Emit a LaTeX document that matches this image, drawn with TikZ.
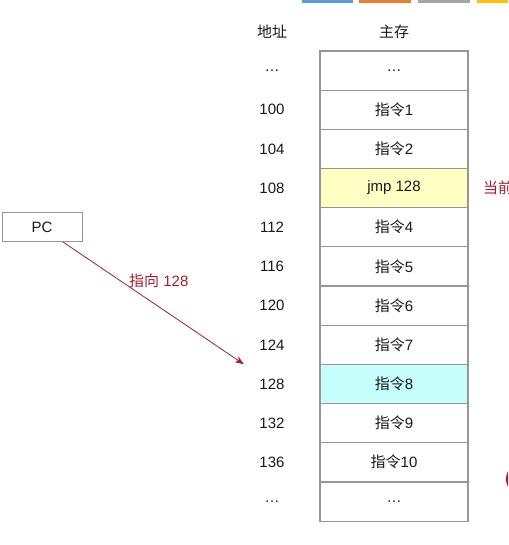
\documentclass[tikz,border=0pt]{standalone}
\usepackage{fontspec}
\setmainfont{Liberation Sans}
\newfontfamily\cjk{Noto Sans CJK SC}
\usepackage{xcolor}
\usetikzlibrary{arrows.meta}
\definecolor{cellgray}{RGB}{150,150,150}
\definecolor{jmpyellow}{RGB}{255,255,196}
\definecolor{hitcyan}{RGB}{198,253,253}
\definecolor{pcred}{RGB}{168,28,44}
\definecolor{barblue}{RGB}{91,155,213}
\definecolor{barorange}{RGB}{237,125,49}
\definecolor{bargray}{RGB}{165,165,165}
\definecolor{baryellow}{RGB}{255,192,0}

\begin{document}
\begin{tikzpicture}[x=1pt,y=-1pt,font=\fontsize{15}{17}\selectfont]
    \tikzstyle{cell} = [rectangle, draw=cellgray, line width=1.2pt, fill=white, text=black!90, minimum width=148pt, minimum height=39.2pt, inner sep=0pt]
    \tikzstyle{addr} = [rectangle, text=black!90, minimum width=56pt, minimum height=39.2pt, inner sep=0pt]
    \tikzstyle{head} = [text=black!90, inner sep=0pt]

    \useasboundingbox (0,0) rectangle (508,545);
    \clip (0,0) rectangle (508,545);

    % Toolbar bits at the top edge
    \fill[barblue] (302,-6) rectangle (353,3);
    \fill[barorange] (359,-6) rectangle (411,3);
    \fill[bargray] (418,-6) rectangle (470,3);
    \fill[baryellow] (477,-6) rectangle (530,3);

    % Headers
    \node[head] (haddr) at (272,32) {\cjk 地址};
    \node[head] (hmem) at (394,32) {\cjk 主存};

    % Addresses
    \node[addr] (a0) at (272,70.6) {\ldots};
    \node[addr] (a100) at (272,109.8) {100};
    \node[addr] (a104) at (272,148.9) {104};
    \node[addr] (a108) at (272,188.1) {108};
    \node[addr] (a112) at (272,227.3) {112};
    \node[addr] (a116) at (272,266.4) {116};
    \node[addr] (a120) at (272,305.6) {120};
    \node[addr] (a124) at (272,344.8) {124};
    \node[addr] (a128) at (272,384.0) {128};
    \node[addr] (a132) at (272,423.1) {132};
    \node[addr] (a136) at (272,462.3) {136};
    \node[addr] (aend) at (272,501.5) {\ldots};

    % Memory
    \node[cell] (m0) at (394,70.6) {\ldots};
    \node[cell] (m1) at (394,109.8) {{\cjk 指令}1};
    \node[cell] (m2) at (394,148.9) {{\cjk 指令}2};
    \node[cell, fill=jmpyellow] (m3) at (394,188.1) {jmp 128};
    \node[cell] (m4) at (394,227.3) {{\cjk 指令}4};
    \node[cell] (m5) at (394,266.4) {{\cjk 指令}5};
    \node[cell] (m6) at (394,305.6) {{\cjk 指令}6};
    \node[cell] (m7) at (394,344.8) {{\cjk 指令}7};
    \node[cell, fill=hitcyan] (m8) at (394,384.0) {{\cjk 指令}8};
    \node[cell] (m9) at (394,423.1) {{\cjk 指令}9};
    \node[cell] (m10) at (394,462.3) {{\cjk 指令}10};
    \node[cell] (mend) at (394,501.5) {\ldots};

    % Cut-off marks at the right edge
    \node[anchor=west, text=pcred, inner sep=0pt] (cur) at (483,188.1) {\cjk 当前};
    \fill[pcred] (522,479) circle (16);

    % PC
    \node[rectangle, draw=cellgray, line width=1pt, fill=white, text=black!90, minimum width=80pt, minimum height=29pt] (pc) at (42,227) {PC};

    % Connections
    \draw[-{Stealth[length=9pt,width=7pt]}, pcred, line width=0.8pt] ([xshift=21pt]pc.south) -- (a128.north west) node[pos=0.53, above=19pt, inner sep=0pt] {{\cjk 指向} 128};
\end{tikzpicture}
\end{document}
